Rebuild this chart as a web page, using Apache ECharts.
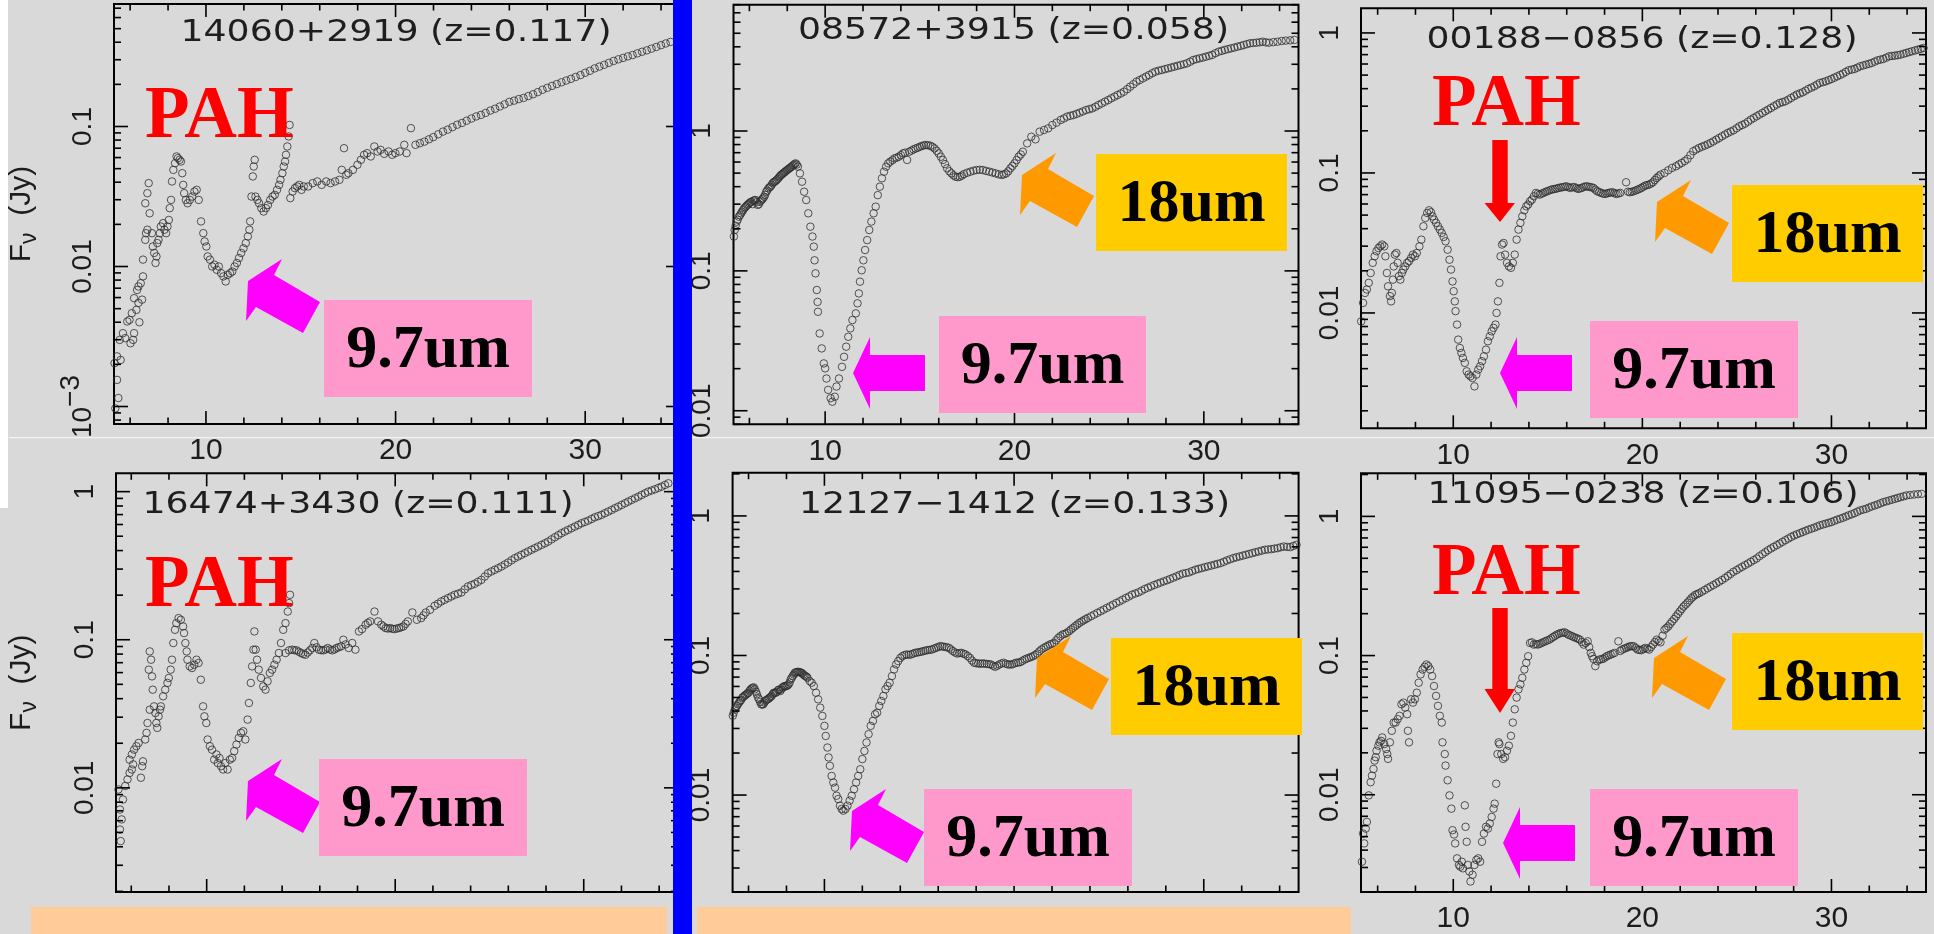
<!DOCTYPE html>
<html><head><meta charset="utf-8">
<script src="https://cdn.jsdelivr.net/npm/echarts@6/dist/echarts.min.js"></script>
<style>html,body{margin:0;padding:0;background:#d9d9d9;overflow:hidden}#c{width:1934px;height:934px}</style>
</head><body><div id="c"></div>
<script>
// ---------- DATA (wavelength in micron, flux in Jy) ----------
const panelTitles = ['14060+2919 (z=0.117)','08572+3915 (z=0.058)','00188\u22120856 (z=0.128)','16474+3430 (z=0.111)','12127\u22121412 (z=0.133)','11095\u22120238 (z=0.106)'];
const xMajorTicks = [10,20,30];
const xMinorTicks = [6,8,12,14,16,18,22,24,26,28,32,34];
const yDecades = [0.0001,0.001,0.01,0.1,1,10];
const yMinorFactors = [2,3,4,5,6,7,8,9];

const spec14060 = [
[5.22,0.00097],[5.38,0.00115],[5.31,0.00155],[5.18,0.00204],[5.31,0.00228],[5.50,0.00215],[5.45,0.00299],[5.74,0.00308],[5.62,0.00334],[5.85,0.00405],[5.97,0.00416],[6.02,0.00283],[6.16,0.00299],[6.21,0.00334],[6.09,0.00464],[6.33,0.0049],[6.21,0.00594],[6.44,0.0055],[6.37,0.0068],[6.44,0.0072],[6.56,0.0076],[6.68,0.0085],[6.63,0.0058],[6.49,0.0040],
[6.68,0.0112],[6.80,0.0155],[6.84,0.0173],[6.91,0.0183],[6.80,0.0283],[6.91,0.0334],[6.98,0.0394],[7.03,0.0240],[7.15,0.0173],[7.20,0.0139],[7.27,0.0125],[7.34,0.0106],[7.39,0.0118],[7.43,0.0147],[7.50,0.0155],[7.57,0.0173],[7.62,0.0193],[7.74,0.0204],[7.81,0.0183],[7.90,0.0173],[7.97,0.0193],[8.04,0.0215],[8.09,0.0261],[8.16,0.0299],[8.21,0.0405],[8.28,0.0490],[8.37,0.0547],[8.45,0.0611],[8.52,0.0594],[8.61,0.0578],[8.68,0.0562],[8.75,0.0464],[8.80,0.0383],[8.85,0.0334],[8.94,0.0299],[9.03,0.0283],[9.15,0.0299],[9.27,0.0316],[9.39,0.0343],[9.51,0.0353],[9.62,0.0299],[9.74,0.0210],[9.86,0.0173],[9.93,0.0151],
[10.02,0.0139],[10.09,0.0118],[10.21,0.0112],[10.33,0.0100],[10.45,0.0103],[10.57,0.00947],[10.68,0.0100],[10.80,0.00896],[10.92,0.00849],[11.04,0.00782],[11.15,0.00872],[11.27,0.00896],[11.39,0.00921],[11.51,0.0100],[11.63,0.0106],[11.74,0.0115],[11.86,0.0125],[11.98,0.0135],[12.10,0.0147],[12.21,0.0164],[12.29,0.0183],[12.33,0.0210],[12.40,0.0316],[12.47,0.0440],[12.52,0.0518],[12.57,0.0578],[12.61,0.0316],[12.71,0.0299],[12.80,0.0283],[12.92,0.0261],[13.04,0.0247],[13.16,0.0261],[13.27,0.0275],[13.39,0.0299],[13.51,0.0316],[13.63,0.0325],[13.75,0.0353],[13.86,0.0383],[13.93,0.0416],[14.03,0.0464],[14.10,0.0518],[14.17,0.0562],[14.22,0.0628],[14.29,0.0720],[14.36,0.0849],[14.41,0.1026],
[14.45,0.0308],[14.57,0.0343],[14.69,0.0363],[14.81,0.0373],[14.92,0.0383],[15.04,0.0353],[15.16,0.0373],[15.39,0.0373],[15.63,0.0394],[15.87,0.0405],[16.10,0.0383],[16.34,0.0405],[16.57,0.0394],[16.81,0.0405],[17.04,0.0416],[17.16,0.0490],[17.28,0.0700],[17.40,0.0452],[17.51,0.0464],[17.75,0.0490],[17.99,0.0533],[18.17,0.0578],[18.34,0.0628],[18.50,0.0645],[18.69,0.0611],[18.88,0.0720],[19.05,0.0663],[19.21,0.0681],[19.40,0.0638],[19.63,0.0663],[19.82,0.0628],[19.99,0.0645],[20.22,0.0663],[20.46,0.0740],[20.58,0.0645],[20.81,0.0973],[21.05,0.0740],[21.28,0.0760],[21.52,0.078],[21.76,0.081],[21.99,0.084],
[22.25,0.088],[22.5,0.092],[22.75,0.095],[23.0,0.099],[23.25,0.103],[23.5,0.106],[23.75,0.110],[24.0,0.114],[24.25,0.118],[24.5,0.121],[24.75,0.125],[25.0,0.130],[25.25,0.134],[25.5,0.139],[25.75,0.144],[26.0,0.150],[26.25,0.153],[26.5,0.157],[26.75,0.160],[27.0,0.165],[27.25,0.170],[27.5,0.176],[27.75,0.183],[28.0,0.189],[28.25,0.195],[28.5,0.201],[28.75,0.207],[29.0,0.213],[29.25,0.219],[29.5,0.226],[29.75,0.233],[30.0,0.242],[30.25,0.250],[30.5,0.260],[30.75,0.268],[31.0,0.276],[31.25,0.285],[31.5,0.294],[31.75,0.302],[32.0,0.309],[32.25,0.317],[32.5,0.324],[32.75,0.333],[33.0,0.342],[33.25,0.350],[33.5,0.360],[33.75,0.370],[34.0,0.381],[34.25,0.392],[34.5,0.402]
];

const spec08572 = [
[5.18,0.176],[5.22,0.196],[5.27,0.21],[5.33,0.225],[5.38,0.232],[5.44,0.244],[5.5,0.25],[5.56,0.258],[5.61,0.265],[5.67,0.272],[5.72,0.28],[5.78,0.285],[5.83,0.29],[5.89,0.296],[5.94,0.30],[6.0,0.305],[6.06,0.31],[6.11,0.312],[6.17,0.30],[6.22,0.318],[6.28,0.32],[6.33,0.321],[6.39,0.31],[6.44,0.296],[6.5,0.30],[6.56,0.312],[6.61,0.318],[6.67,0.325],[6.72,0.33],[6.78,0.339],[6.83,0.35],[6.89,0.368],[6.94,0.375],[7.0,0.389],[7.06,0.395],[7.11,0.40],[7.17,0.41],[7.22,0.423],[7.28,0.43],[7.33,0.434],[7.39,0.44],[7.44,0.447],[7.5,0.455],[7.56,0.466],[7.61,0.475],[7.67,0.485],[7.72,0.49],[7.78,0.498],[7.83,0.505],[7.89,0.512],[7.94,0.52],[8.0,0.527],[8.06,0.535],[8.11,0.541],[8.17,0.548],[8.22,0.556],[8.28,0.565],[8.33,0.571],[8.39,0.58],[8.44,0.587],[8.5,0.575],[8.56,0.556],[8.67,0.498],[8.78,0.434],[8.89,0.368],[9.0,0.321],[9.11,0.258],[9.22,0.207],[9.33,0.176],[9.4,0.149],[9.44,0.119],[9.49,0.096],[9.56,0.073],[9.6,0.060],[9.62,0.051],[9.71,0.0357],[9.82,0.0279],[9.93,0.0218],[10.0,0.0201],[10.07,0.0170],[10.16,0.0141],[10.29,0.0123],[10.38,0.0116],[10.51,0.0126],[10.6,0.0149],[10.73,0.0170],[10.89,0.0206],[11.0,0.0243],[11.11,0.0287],[11.22,0.0338],[11.33,0.0388],[11.44,0.0445],[11.62,0.0497],[11.71,0.0586],[11.78,0.0690],[11.84,0.0837],[11.93,0.101],[12.02,0.119],[12.11,0.141],[12.22,0.166],[12.33,0.196],[12.44,0.225],[12.56,0.258],[12.67,0.288],[12.78,0.348],[12.89,0.40],[13.0,0.459],[13.11,0.512],[13.22,0.556],[13.33,0.587],[13.44,0.604],[13.56,0.620],[13.67,0.638],[13.78,0.645],[13.89,0.655],[14.0,0.672],[14.11,0.692],[14.22,0.700],[14.33,0.621],[14.44,0.711],[14.56,0.725],[14.67,0.739],[14.78,0.750],[14.89,0.760],[15.0,0.770],[15.11,0.782],[15.22,0.790],[15.33,0.794],[15.44,0.790],[15.56,0.785],[15.67,0.770],[15.78,0.751],[15.89,0.722],[16.0,0.692],[16.11,0.655],[16.22,0.621],[16.33,0.580],[16.44,0.541],[16.56,0.515],[16.67,0.498],[16.78,0.482],[16.89,0.471],[17.0,0.468],[17.11,0.471],[17.22,0.480],[17.33,0.492],[17.5,0.503],[17.67,0.512],[17.83,0.520],[18.0,0.526],[18.17,0.528],[18.33,0.526],[18.5,0.518],[18.67,0.512],[18.83,0.505],[19.0,0.498],[19.17,0.490],[19.33,0.485],[19.44,0.490],[19.56,0.498],[19.67,0.515],[19.78,0.541],[19.89,0.562],[20.0,0.587],[20.11,0.620],[20.22,0.655],[20.33,0.680],[20.44,0.711],[20.67,0.816],[20.89,0.910],[21.11,0.872],[21.33,0.989],[21.56,1.017],[21.78,1.045],[22.0,1.104],[22.22,1.147],[22.44,1.199],[22.61,1.230],[22.78,1.267],[22.95,1.285],[23.11,1.301],[23.28,1.325],[23.44,1.352],[23.61,1.380],[23.78,1.413],[23.95,1.432],[24.11,1.452],[24.28,1.490],[24.44,1.534],[24.61,1.575],[24.78,1.621],[24.95,1.665],[25.11,1.713],[25.28,1.760],[25.44,1.808],[25.61,1.855],[25.78,1.911],[25.95,1.990],[26.11,2.075],[26.28,2.160],[26.44,2.253],[26.61,2.315],[26.78,2.381],[26.95,2.450],[27.11,2.514],[27.28,2.590],[27.44,2.656],[27.61,2.700],[27.78,2.731],[27.95,2.770],[28.11,2.807],[28.28,2.845],[28.44,2.885],[28.61,2.925],[28.78,2.965],[28.95,3.005],[29.11,3.048],[29.28,3.130],[29.44,3.22],[29.61,3.265],[29.78,3.309],[29.95,3.350],[30.11,3.40],[30.28,3.45],[30.44,3.50],[30.61,3.60],[30.78,3.69],[30.95,3.74],[31.11,3.80],[31.28,3.85],[31.44,3.90],[31.61,3.95],[31.78,4.01],[31.95,4.06],[32.11,4.12],[32.28,4.18],[32.44,4.24],[32.61,4.26],[32.78,4.28],[32.95,4.31],[33.11,4.35],[33.28,4.30],[33.44,4.28],[33.67,4.32],[33.89,4.35],[34.11,4.40],[34.33,4.43],[34.56,4.45],[34.78,4.48]
];

const spec00188 = [
[5.13,0.00871],[5.23,0.0118],[5.33,0.0139],[5.43,0.0147],[5.53,0.0164],[5.63,0.0193],[5.74,0.0228],[5.84,0.0254],[5.94,0.0276],[6.04,0.0291],[6.14,0.0299],[6.24,0.0308],[6.35,0.0299],[6.41,0.0254],[6.49,0.0193],[6.55,0.0155],[6.65,0.0132],[6.71,0.0121],[6.75,0.0139],[6.81,0.0173],[6.85,0.0215],[6.91,0.0261],[6.99,0.0268],[7.06,0.0228],[7.12,0.0183],[7.20,0.0173],[7.28,0.0193],[7.36,0.0204],[7.46,0.0215],[7.56,0.0228],[7.66,0.0234],[7.77,0.0247],[7.87,0.0261],[7.97,0.0254],[8.07,0.0268],[8.21,0.0299],[8.31,0.0334],[8.42,0.0416],[8.52,0.0477],[8.62,0.0518],[8.72,0.0541],[8.82,0.0524],[8.90,0.0490],[8.98,0.0464],[9.09,0.0440],[9.19,0.0416],[9.29,0.0394],[9.39,0.0373],[9.49,0.0349],[9.59,0.0325],[9.70,0.0283],[9.80,0.0240],[9.88,0.0204],[9.96,0.0168],[10.02,0.0143],[10.08,0.0121],[10.12,0.0103],[10.20,0.00826],[10.26,0.00645],[10.35,0.00562],[10.43,0.00518],[10.51,0.00477],[10.61,0.00440],[10.71,0.00383],[10.81,0.00363],[10.91,0.00353],[11.02,0.00343],[11.12,0.00299],[11.22,0.00363],[11.32,0.00394],[11.42,0.00416],[11.52,0.00452],[11.62,0.00490],[11.73,0.00547],[11.83,0.00628],[11.93,0.00681],[12.03,0.00739],[12.13,0.00782],[12.23,0.00826],[12.29,0.0100],[12.36,0.0121],[12.44,0.0164],[12.50,0.0254],[12.58,0.0308],[12.66,0.0316],[12.74,0.0261],[12.84,0.0228],[12.94,0.0215],[13.05,0.0210],[13.15,0.0228],[13.25,0.0261],[13.35,0.0334],[13.45,0.0394],[13.55,0.0440],[13.65,0.0490],[13.76,0.0541],[13.86,0.0578],[13.96,0.0594],[14.06,0.0628],[14.16,0.0645],[14.26,0.0681],[14.37,0.0720],[14.47,0.0710],[14.57,0.0700],[14.67,0.0712],[14.77,0.0720],[14.87,0.0732],[14.97,0.0740],[15.08,0.0750],[15.18,0.0760],[15.28,0.0765],[15.38,0.0769],[15.48,0.0775],[15.58,0.0782],[15.69,0.0788],[15.79,0.0791],[15.89,0.0797],[15.99,0.0803],[16.09,0.0790],[16.19,0.0782],[16.29,0.0790],[16.40,0.0794],[16.50,0.0780],[16.60,0.0769],[16.70,0.0775],[16.80,0.0782],[16.90,0.0795],[17.01,0.0803],[17.11,0.0800],[17.21,0.0794],[17.31,0.0790],[17.41,0.0782],[17.51,0.0760],[17.61,0.0740],[17.72,0.0730],[17.82,0.0720],[17.92,0.0712],[18.02,0.0708],[18.12,0.0714],[18.22,0.0720],[18.32,0.0725],[18.43,0.0728],[18.53,0.0716],[18.63,0.0708],[18.73,0.0714],[18.83,0.0720],[19.14,0.0858],[19.24,0.0735],[19.34,0.0728],[19.44,0.0734],[19.54,0.0740],[19.65,0.0750],[19.75,0.0760],[19.85,0.0770],[19.95,0.0782],[20.05,0.0797],[20.15,0.0812],[20.25,0.0820],[20.36,0.0826],[20.46,0.0840],[20.56,0.0858],[20.66,0.0890],[20.76,0.0921],[20.86,0.0945],[20.96,0.0973],[21.17,0.1000],[21.37,0.1045],[21.57,0.1086],[21.78,0.1116],[21.93,0.1150],[22.08,0.1179],[22.24,0.1215],[22.39,0.1259],[22.54,0.1340],[22.69,0.1429],[22.85,0.1470],[23.0,0.1509],[23.15,0.1540],[23.30,0.1568],[23.45,0.1600],[23.60,0.1638],[23.75,0.1680],[23.91,0.1729],[24.06,0.1775],[24.21,0.1827],[24.37,0.1880],[24.52,0.1931],[24.67,0.1975],[24.82,0.2018],[24.98,0.2085],[25.13,0.2154],[25.28,0.2200],[25.43,0.2250],[25.59,0.2325],[25.74,0.2404],[25.89,0.2470],[26.04,0.2540],[26.19,0.2610],[26.35,0.2683],[26.50,0.2760],[26.65,0.2833],[26.80,0.2910],[26.95,0.2994],[27.11,0.3080],[27.26,0.3162],[27.41,0.3205],[27.56,0.3250],[27.72,0.3340],[27.87,0.3435],[28.02,0.3530],[28.17,0.3628],[28.33,0.3700],[28.48,0.3768],[28.63,0.3870],[28.78,0.3981],[28.94,0.4070],[29.09,0.4159],[29.24,0.4280],[29.39,0.4394],[29.55,0.4450],[29.70,0.4518],[29.85,0.4600],[30.0,0.4690],[30.15,0.4790],[30.30,0.4898],[30.46,0.5010],[30.61,0.5124],[30.76,0.5270],[30.91,0.5412],[31.07,0.5470],[31.22,0.5533],[31.37,0.5650],[31.52,0.5780],[31.68,0.5860],[31.83,0.5940],[31.98,0.6020],[32.13,0.6105],[32.29,0.6240],[32.44,0.6376],[32.59,0.6450],[32.74,0.6519],[32.90,0.6660],[33.05,0.6810],[33.20,0.6850],[33.35,0.6887],[33.50,0.6940],[33.65,0.6998],[33.81,0.7100],[33.96,0.7197],[34.11,0.7300],[34.26,0.7396],[34.42,0.7500],[34.57,0.7601],[34.72,0.7700],[34.87,0.7812]
];

const spec16474 = [
[5.44,0.00437],[5.40,0.00523],[5.49,0.00612],[5.40,0.00714],[5.56,0.00834],[5.32,0.00975],[5.68,0.0103],[5.80,0.0114],[5.91,0.0126],[6.03,0.0133],[6.10,0.0144],[5.91,0.0155],[6.03,0.0168],[6.15,0.0181],[6.27,0.0191],[6.39,0.0201],[6.51,0.0117],[6.58,0.0140],[6.62,0.0151],[6.74,0.0212],[6.81,0.0235],[6.86,0.0274],[6.98,0.0337],[6.93,0.0628],[6.98,0.0834],[7.05,0.0733],[7.10,0.0566],[7.14,0.0460],[7.21,0.0355],[7.28,0.0320],[7.33,0.0274],[7.38,0.0254],[7.45,0.0304],[7.52,0.0337],[7.57,0.0355],[7.69,0.0415],[7.80,0.0460],[7.92,0.0511],[7.99,0.0552],[8.09,0.0628],[8.16,0.0733],[8.23,0.0950],[8.32,0.1167],[8.39,0.1295],[8.51,0.140],[8.63,0.1364],[8.75,0.1230],[8.80,0.1109],[8.87,0.0950],[8.94,0.0834],[8.98,0.0733],[9.10,0.0661],[9.22,0.0644],[9.34,0.0678],[9.46,0.0733],[9.57,0.0697],[9.69,0.0537],[9.81,0.0355],[9.88,0.0304],[9.98,0.0274],[10.05,0.0212],[10.17,0.0191],[10.28,0.0181],[10.40,0.0155],[10.52,0.0168],[10.59,0.0147],[10.68,0.0159],[10.76,0.0140],[10.87,0.0133],[10.99,0.0147],[11.11,0.0133],[11.23,0.0155],[11.35,0.0159],[11.46,0.0177],[11.58,0.0196],[11.70,0.0217],[11.82,0.0235],[11.94,0.0241],[12.05,0.0212],[12.17,0.0289],[12.24,0.0374],[12.34,0.0511],[12.41,0.0661],[12.48,0.0857],[12.53,0.1138],[12.60,0.0857],[12.67,0.0733],[12.76,0.0628],[12.88,0.0552],[13.00,0.0484],[13.12,0.0460],[13.23,0.0524],[13.35,0.0596],[13.47,0.0628],[13.59,0.0678],[13.71,0.0733],[13.83,0.0813],[13.94,0.0950],[14.06,0.1167],[14.18,0.1295],[14.30,0.155],[14.37,0.1767],[14.42,0.2011],[14.18,0.0813],[14.37,0.0848],[14.53,0.0857],[14.65,0.0850],[14.77,0.0848],[14.89,0.0830],[15.01,0.0813],[15.12,0.0800],[15.24,0.0792],[15.36,0.0820],[15.48,0.0848],[15.60,0.0880],[15.71,0.0950],[15.83,0.0890],[15.95,0.0857],[16.07,0.0850],[16.19,0.0848],[16.31,0.0860],[16.42,0.0879],[16.54,0.0860],[16.66,0.0848],[16.78,0.0860],[16.89,0.0879],[17.01,0.0890],[17.13,0.0902],[17.25,0.1],[17.37,0.0930],[17.53,0.0880],[17.72,0.0950],[17.89,0.0857],[18.08,0.1138],[18.24,0.118],[18.43,0.1263],[18.55,0.1300],[18.67,0.1330],[18.90,0.155],[19.09,0.1330],[19.26,0.1263],[19.38,0.1230],[19.49,0.1199],[19.61,0.1190],[19.73,0.1199],[19.85,0.1185],[19.96,0.118],[20.08,0.1190],[20.20,0.1199],[20.32,0.1215],[20.44,0.1230],[20.55,0.1280],[20.67,0.1330],[20.91,0.1528],[21.15,0.1364],[21.38,0.1400],[21.50,0.1460],[21.62,0.1528],[21.85,0.1593],[22.09,0.1695],[22.27,0.1750],[22.44,0.1813],[22.62,0.1860],[22.80,0.1910],[22.98,0.1960],[23.15,0.2011],[23.33,0.2045],[23.51,0.2085],[23.69,0.2190],[23.86,0.2290],[24.04,0.2340],[24.21,0.2386],[24.39,0.2460],[24.57,0.2537],[24.75,0.2670],[24.92,0.2813],[25.10,0.2890],[25.28,0.2965],[25.46,0.3040],[25.63,0.3121],[25.81,0.3220],[25.99,0.3321],[26.17,0.3440],[26.34,0.3554],[26.52,0.3650],[26.69,0.3741],[26.87,0.3840],[27.05,0.3943],[27.23,0.4050],[27.40,0.4150],[27.58,0.4260],[27.76,0.4369],[27.94,0.4480],[28.11,0.4600],[28.29,0.4760],[28.47,0.4920],[28.65,0.5080],[28.82,0.5240],[29.00,0.5380],[29.17,0.5518],[29.35,0.5660],[29.53,0.5808],[29.71,0.5960],[29.88,0.6115],[30.06,0.6240],[30.24,0.6372],[30.42,0.6540],[30.59,0.6710],[30.77,0.6840],[30.94,0.6966],[31.12,0.7150],[31.30,0.7332],[31.48,0.7520],[31.65,0.7723],[31.83,0.7920],[32.01,0.8130],[32.19,0.8350],[32.36,0.8562],[32.54,0.8790],[32.72,0.9017],[32.90,0.9250],[33.07,0.9496],[33.25,0.9750],[33.42,1.0],[33.60,1.018],[33.78,1.037],[33.96,1.060],[34.13,1.081],[34.31,1.110],[34.49,1.138]
];

const spec12127 = [
[5.13,0.0349],[5.17,0.037],[5.22,0.0389],[5.28,0.041],[5.33,0.0423],[5.39,0.0435],[5.44,0.0447],[5.5,0.046],[5.56,0.0472],[5.61,0.048],[5.67,0.0499],[5.72,0.0505],[5.78,0.0513],[5.83,0.052],[5.89,0.0527],[5.94,0.0535],[6.0,0.0541],[6.06,0.056],[6.11,0.0572],[6.17,0.058],[6.22,0.0588],[6.28,0.059],[6.33,0.0572],[6.39,0.055],[6.44,0.0527],[6.5,0.050],[6.56,0.0485],[6.61,0.0465],[6.67,0.0447],[6.72,0.0445],[6.78,0.0447],[6.83,0.046],[6.89,0.0472],[6.94,0.048],[7.0,0.0485],[7.06,0.049],[7.11,0.0499],[7.17,0.0505],[7.22,0.0513],[7.28,0.053],[7.33,0.0541],[7.39,0.054],[7.44,0.0541],[7.5,0.055],[7.56,0.0565],[7.61,0.057],[7.67,0.0556],[7.72,0.057],[7.78,0.0588],[7.83,0.0595],[7.89,0.0604],[7.94,0.060],[8.0,0.0604],[8.06,0.061],[8.11,0.0621],[8.17,0.064],[8.22,0.0674],[8.28,0.069],[8.33,0.0712],[8.39,0.073],[8.44,0.0752],[8.5,0.0757],[8.56,0.0760],[8.61,0.0765],[8.67,0.0760],[8.72,0.0757],[8.78,0.0752],[8.83,0.0745],[8.89,0.0732],[8.94,0.072],[9.0,0.0712],[9.06,0.0705],[9.11,0.0692],[9.22,0.0656],[9.33,0.0638],[9.44,0.0604],[9.56,0.0541],[9.67,0.0485],[9.78,0.0423],[9.89,0.0369],[10.0,0.0313],[10.07,0.0265],[10.16,0.0219],[10.22,0.0186],[10.29,0.0162],[10.38,0.0137],[10.47,0.0123],[10.56,0.0113],[10.64,0.00989],[10.73,0.00936],[10.82,0.00839],[10.91,0.00794],[11.0,0.00773],[11.11,0.00794],[11.22,0.00839],[11.33,0.00912],[11.44,0.00989],[11.56,0.0110],[11.67,0.0123],[11.78,0.0137],[11.89,0.0153],[12.0,0.0181],[12.11,0.0207],[12.22,0.0238],[12.33,0.0273],[12.44,0.0313],[12.56,0.0340],[12.67,0.0379],[12.78,0.0389],[12.89,0.0435],[13.0,0.0472],[13.11,0.0513],[13.22,0.0572],[13.33,0.0604],[13.44,0.0638],[13.56,0.0712],[13.67,0.0794],[13.78,0.0863],[13.89,0.0911],[14.0,0.0960],[14.11,0.0989],[14.22,0.1005],[14.33,0.1017],[14.44,0.1010],[14.56,0.1017],[14.67,0.1030],[14.78,0.1045],[14.89,0.1050],[15.0,0.1057],[15.11,0.1065],[15.22,0.1074],[15.33,0.1085],[15.44,0.1092],[15.56,0.1098],[15.67,0.1104],[15.78,0.1120],[15.89,0.1135],[16.0,0.1150],[16.11,0.1167],[16.22,0.1160],[16.33,0.1153],[16.44,0.1145],[16.56,0.1135],[16.67,0.1105],[16.78,0.1074],[16.89,0.1050],[17.0,0.1033],[17.11,0.1040],[17.22,0.1045],[17.33,0.1030],[17.44,0.1017],[17.56,0.0990],[17.67,0.0962],[17.78,0.0920],[17.89,0.0887],[18.0,0.0880],[18.11,0.0877],[18.22,0.0872],[18.33,0.0877],[18.44,0.0874],[18.56,0.0870],[18.67,0.0866],[18.78,0.0862],[18.89,0.0845],[19.0,0.0830],[19.11,0.0845],[19.22,0.0862],[19.33,0.0875],[19.44,0.0887],[19.56,0.0874],[19.67,0.0862],[19.78,0.0862],[19.89,0.0862],[20.0,0.0875],[20.11,0.0887],[20.22,0.0890],[20.33,0.0896],[20.44,0.0915],[20.56,0.0936],[20.67,0.0950],[20.78,0.0962],[20.89,0.0975],[21.0,0.0989],[21.11,0.1010],[21.22,0.1033],[21.33,0.1070],[21.44,0.1104],[21.56,0.1130],[21.67,0.1153],[21.78,0.1175],[21.89,0.1199],[22.0,0.1215],[22.11,0.1231],[22.22,0.1285],[22.33,0.1337],[22.44,0.1375],[22.56,0.1413],[22.67,0.1430],[22.78,0.1452],[22.89,0.1490],[23.0,0.1534],[23.11,0.1578],[23.22,0.1621],[23.33,0.1665],[23.44,0.1711],[23.56,0.1750],[23.67,0.1787],[23.78,0.1822],[23.89,0.1858],[24.06,0.1910],[24.22,0.1963],[24.39,0.2020],[24.56,0.2074],[24.72,0.2130],[24.89,0.2190],[25.06,0.2250],[25.22,0.2313],[25.39,0.2380],[25.56,0.2443],[25.72,0.2510],[25.89,0.2581],[26.06,0.2650],[26.22,0.2727],[26.39,0.2780],[26.56,0.2833],[26.72,0.2910],[26.89,0.2994],[27.06,0.3060],[27.22,0.3128],[27.39,0.3200],[27.56,0.3268],[27.72,0.3330],[27.89,0.3396],[28.06,0.3460],[28.22,0.3530],[28.39,0.3610],[28.56,0.3688],[28.72,0.3770],[28.89,0.3853],[29.06,0.3895],[29.22,0.3938],[29.39,0.4025],[29.56,0.4114],[29.72,0.4170],[29.89,0.4228],[30.06,0.4290],[30.22,0.4346],[30.39,0.4405],[30.56,0.4467],[30.72,0.4530],[30.89,0.4591],[31.06,0.4690],[31.22,0.4797],[31.39,0.4890],[31.56,0.4984],[31.72,0.5055],[31.89,0.5124],[32.06,0.5195],[32.22,0.5266],[32.39,0.5340],[32.56,0.5412],[32.72,0.5490],[32.89,0.5562],[33.06,0.5640],[33.22,0.5717],[33.39,0.5750],[33.56,0.5780],[33.72,0.5830],[33.89,0.5875],[34.06,0.5960],[34.22,0.6039],[34.39,0.6000],[34.56,0.5973],[34.72,0.6090],[34.89,0.6206]
];

const spec11095 = [
[5.17,0.00330],[5.23,0.00526],[5.29,0.00447],[5.37,0.00571],[5.43,0.00638],[5.53,0.00989],[5.63,0.0123],[5.70,0.0137],[5.78,0.0153],[5.84,0.0176],[5.90,0.0186],[5.94,0.0207],[6.04,0.0225],[6.10,0.0238],[6.18,0.0244],[6.24,0.0258],[6.35,0.0231],[6.45,0.0213],[6.51,0.0196],[6.55,0.0181],[6.65,0.0238],[6.75,0.0288],[6.85,0.0330],[6.95,0.0330],[7.06,0.0349],[7.16,0.0369],[7.26,0.0447],[7.36,0.0459],[7.46,0.0423],[7.56,0.0379],[7.60,0.0288],[7.66,0.0238],[7.77,0.0485],[7.87,0.0459],[7.97,0.0485],[8.07,0.0541],[8.17,0.0638],[8.27,0.0732],[8.38,0.0794],[8.48,0.0830],[8.58,0.0863],[8.68,0.0839],[8.78,0.0794],[8.88,0.0712],[8.98,0.0604],[9.09,0.0513],[9.19,0.0435],[9.29,0.0369],[9.39,0.0330],[9.43,0.0238],[9.55,0.0196],[9.59,0.0162],[9.70,0.0127],[9.80,0.00989],[9.90,0.00794],[9.96,0.00556],[10.04,0.00518],[10.10,0.00447],[10.20,0.00349],[10.30,0.00313],[10.37,0.00304],[10.45,0.00330],[10.51,0.00296],[10.61,0.00839],[10.65,0.00588],[10.71,0.00459],[10.77,0.00313],[10.85,0.00281],[10.91,0.00238],[11.02,0.00266],[11.12,0.00313],[11.22,0.00340],[11.32,0.00349],[11.42,0.00330],[11.52,0.00459],[11.62,0.00526],[11.73,0.00588],[11.83,0.00571],[11.93,0.00621],[12.03,0.00692],[12.13,0.00794],[12.19,0.00863],[12.27,0.0120],[12.34,0.0196],[12.40,0.0238],[12.44,0.0231],[12.54,0.0196],[12.64,0.0181],[12.74,0.0186],[12.84,0.0207],[12.94,0.0225],[13.05,0.0265],[13.15,0.0330],[13.25,0.0411],[13.35,0.0499],[13.45,0.0572],[13.55,0.0621],[13.65,0.0692],[13.76,0.0794],[13.86,0.0887],[13.96,0.0989],[14.06,0.1231],[14.16,0.1245],[14.26,0.1199],[14.37,0.1210],[14.47,0.1199],[14.57,0.1215],[14.67,0.1231],[14.77,0.1250],[14.87,0.1266],[14.97,0.1285],[15.08,0.1301],[15.18,0.1330],[15.28,0.1359],[15.38,0.1385],[15.48,0.1413],[15.58,0.1435],[15.69,0.1452],[15.79,0.1460],[15.89,0.1469],[15.99,0.1440],[16.09,0.1413],[16.19,0.1395],[16.29,0.1375],[16.39,0.1355],[16.50,0.1337],[16.60,0.1320],[16.70,0.1301],[16.80,0.1250],[16.90,0.1199],[17.00,0.1230],[17.11,0.1266],[17.19,0.1150],[17.27,0.1045],[17.34,0.0990],[17.41,0.0947],[17.51,0.0839],[17.61,0.0911],[17.72,0.0936],[17.82,0.0940],[17.92,0.0947],[18.02,0.0968],[18.12,0.0989],[18.22,0.1003],[18.32,0.1017],[18.43,0.1030],[18.53,0.1045],[18.73,0.1266],[18.83,0.1080],[18.93,0.1104],[19.04,0.1120],[19.14,0.1135],[19.24,0.1150],[19.34,0.1167],[19.44,0.1167],[19.54,0.1167],[19.65,0.1135],[19.75,0.1104],[19.85,0.1098],[19.95,0.1092],[20.05,0.1115],[20.15,0.1135],[20.26,0.1120],[20.36,0.1104],[20.46,0.1150],[20.56,0.1199],[20.66,0.1250],[20.76,0.1301],[20.86,0.1270],[20.96,0.1245],[21.07,0.1390],[21.17,0.1534],[21.27,0.1578],[21.37,0.1621],[21.47,0.1690],[21.57,0.1758],[21.68,0.1830],[21.78,0.1910],[21.88,0.1990],[21.98,0.2074],[22.08,0.2160],[22.18,0.2250],[22.29,0.2325],[22.39,0.2404],[22.49,0.2490],[22.59,0.2581],[22.69,0.2650],[22.79,0.2727],[22.90,0.2765],[23.0,0.2805],[23.15,0.2880],[23.30,0.2961],[23.45,0.3045],[23.60,0.3128],[23.76,0.3215],[23.91,0.3304],[24.06,0.3395],[24.21,0.3490],[24.37,0.3610],[24.52,0.3727],[24.67,0.3860],[24.82,0.4001],[24.98,0.4110],[25.13,0.4228],[25.28,0.4345],[25.43,0.4467],[25.59,0.4590],[25.74,0.4719],[25.89,0.4850],[26.04,0.4984],[26.19,0.5170],[26.35,0.5353],[26.50,0.5530],[26.65,0.5717],[26.80,0.5880],[26.95,0.6039],[27.11,0.6210],[27.26,0.6380],[27.41,0.6560],[27.56,0.6740],[27.72,0.6930],[27.87,0.7120],[28.02,0.7280],[28.17,0.7435],[28.33,0.7580],[28.48,0.7727],[28.63,0.7880],[28.78,0.8030],[28.94,0.8160],[29.09,0.8297],[29.24,0.8460],[29.39,0.8625],[29.55,0.8745],[29.70,0.8866],[29.85,0.8990],[30.0,0.9112],[30.15,0.9290],[30.30,0.9467],[30.46,0.9625],[30.61,0.9783],[30.76,0.9975],[30.91,1.017],[31.07,1.036],[31.22,1.056],[31.37,1.080],[31.52,1.104],[31.68,1.119],[31.83,1.134],[31.98,1.156],[32.13,1.179],[32.29,1.198],[32.44,1.218],[32.59,1.242],[32.74,1.266],[32.90,1.283],[33.05,1.301],[33.20,1.319],[33.35,1.337],[33.50,1.355],[33.65,1.374],[33.81,1.393],[33.96,1.413],[34.16,1.425],[34.37,1.436],[34.57,1.444],[34.77,1.452]
];

const spectra = [spec14060, spec08572, spec00188, spec16474, spec12127, spec11095];

// ---------- LAYOUT (pixel geometry & styles) ----------
const layout = [
  {left:114,   top:4,     width:566, height:420,   xmin:5.15, ymin:7.5e-4,  ymax:0.75, yname:true, nameGap:90, title:[396,33]},
  {left:733.5, top:4.7,   width:565, height:419.6, xmin:5.16, ymin:0.008,   ymax:8,    title:[1013.5,31]},
  {left:1361,  top:8.3,   width:565, height:420,   xmin:5.12, ymin:0.0015,  ymax:1.5,  title:[1642,40]},
  {left:116,   top:473.3, width:562, height:419.4, xmin:5.19, ymin:0.00198, ymax:1.33, yname:true, nameGap:92, title:[358,505]},
  {left:732.6, top:472.7, width:566, height:420.6, xmin:5.16, ymin:0.00202, ymax:2.04, title:[1014.6,505]},
  {left:1361,  top:473.3, width:565, height:420,   xmin:5.12, ymin:0.002,   ymax:2.04, title:[1643,495]}
];

const LABEL_COLOR = '#1c1c1c';
const sans = 'Liberation Sans';

function yLabel(v){
  const l = Math.log10(v), e = Math.round(l);
  if (Math.abs(l - e) > 1e-6) return '';
  if (e <= -3) return '{b|10}{s|\u2212' + (-e) + '}';
  if (e >= 0) return '{b|' + Math.pow(10, e) + '}';
  return '{b|' + Math.pow(10, e).toFixed(-e) + '}';
}

function tickData(L){
  const d = [];
  xMajorTicks.forEach(v => d.push([v, L.ymin, 0, 1]));
  xMinorTicks.forEach(v => d.push([v, L.ymin, 0, 0]));
  yDecades.forEach(dec => {
    if (dec >= L.ymin && dec <= L.ymax) d.push([L.xmin, dec, 1, 1]);
    yMinorFactors.forEach(f => { const v = dec * f; if (v >= L.ymin && v <= L.ymax) d.push([L.xmin, v, 1, 0]); });
  });
  return d;
}

function renderTick(params, api){
  const cs = params.coordSys;
  const kind = api.value(2), major = api.value(3);
  const p = api.coord([api.value(0), api.value(1)]);
  const st = {stroke:'#000', lineWidth:1.6};
  if (kind === 0){
    const len = major ? 13 : 6.5, x = p[0], yb = cs.y + cs.height, yt = cs.y;
    return {type:'group', children:[
      {type:'line', shape:{x1:x, y1:yb, x2:x, y2:yb - len}, style:st},
      {type:'line', shape:{x1:x, y1:yt, x2:x, y2:yt + len}, style:st}
    ]};
  }
  const len = major ? 14 : 7, y = p[1], xl = cs.x, xr = cs.x + cs.width;
  return {type:'group', children:[
    {type:'line', shape:{x1:xl, y1:y, x2:xl + len, y2:y}, style:st},
    {type:'line', shape:{x1:xr, y1:y, x2:xr - len, y2:y}, style:st}
  ]};
}

const grids = [], xAxes = [], yAxes = [], series = [];
layout.forEach((L, i) => {
  grids.push({left:L.left, top:L.top, width:L.width, height:L.height, show:true,
    backgroundColor:'#d9d9d9', borderColor:'#000', borderWidth:2, containLabel:false});
  xAxes.push({type:'value', gridIndex:i, min:L.xmin, max:35,
    axisLine:{show:false}, axisTick:{show:false}, splitLine:{show:false},
    axisLabel:{show:true, customValues:xMajorTicks,
      formatter: v => (xMajorTicks.indexOf(Math.round(v*1000)/1000) >= 0 ? String(Math.round(v)) : ''),
      fontFamily:sans, fontSize:30, color:LABEL_COLOR, margin:27, verticalAlign:'middle'}});
  yAxes.push({type:'log', logBase:10, gridIndex:i, min:L.ymin, max:L.ymax,
    axisLine:{show:false}, axisTick:{show:false}, splitLine:{show:false},
    minorTick:{show:false}, minorSplitLine:{show:false},
    axisLabel:{show:true, rotate:90, margin:37, verticalAlign:'middle', align:'center', formatter:yLabel,
      fontFamily:sans, fontSize:28, color:LABEL_COLOR,
      rich:{
        b:{fontFamily:sans, fontSize:28, color:LABEL_COLOR, lineHeight:40, verticalAlign:'bottom'},
        s:{fontFamily:sans, fontSize:28, color:LABEL_COLOR, lineHeight:28, verticalAlign:'top'}
      }},
    name: L.yname ? '{a|F}{n|\u03bd}{a|  (Jy)}' : '',
    nameLocation:'middle', nameRotate:90, nameGap: L.nameGap || 60,
    nameTextStyle:{verticalAlign:'middle', align:'center', fontFamily:sans, fontSize:30, color:LABEL_COLOR,
      rich:{
        a:{fontFamily:sans, fontSize:30, color:LABEL_COLOR, lineHeight:34, verticalAlign:'top'},
        n:{fontFamily:sans, fontSize:23, color:LABEL_COLOR, lineHeight:22, verticalAlign:'bottom'}
      }}
  });
  series.push({type:'scatter', xAxisIndex:i, yAxisIndex:i, data:spectra[i], symbol:'circle', symbolSize:7.5,
    itemStyle:{color:'rgba(0,0,0,0)', borderColor:'#2e2e2e', borderWidth:1}, silent:true, animation:false, z:3});
  series.push({type:'custom', xAxisIndex:i, yAxisIndex:i, data:tickData(L), renderItem:renderTick,
    silent:true, animation:false, clip:false, z:4});
});

// ---------- ANNOTATIONS ----------
const diagArrowShape = [[0,0],[34,-22],[26,-6],[72,21],[55,52],[8,26],[-2,40]];
const leftArrowShape = [[0,0],[17,-36],[17,-18],[72,-18],[72,18],[17,18],[17,36]];
function downArrowShape(len, head){ return [[0,0],[15,-head],[7.7,-head],[7.7,-len],[-7.7,-len],[-7.7,-head],[-15.5,-head]]; }

const annotations = {
  magentaDiag: [[248,281],[248,781],[852,811]],
  orangeDiag:  [[1022,175],[1657,202],[1037,658],[1654,658]],
  magentaLeft: [[853,373],[1500,373],[1503,843]],
  redDown: [{tip:[1500,222], len:82, head:19}, {tip:[1500,713], len:105, head:24}],
  pinkBoxes:   [[324,300,208,97],[939,316,207,97],[1590,321,208,97],[319,759,208,97],[924,789,208,97],[1590,789,208,97]],
  yellowBoxes: [[1096,154,191,97],[1732,185,191,97],[1111,638,191,97],[1732,633,191,97]],
  pah: [[145,118],[1432,106],[145,587],[1432,575]]
};

const g = [];
g.push({type:'rect', z:1, shape:{x:0, y:0, width:8, height:508}, style:{fill:'#ffffff'}});
g.push({type:'rect', z:1, shape:{x:9, y:437, width:664, height:1.3}, style:{fill:'#f3f3f3'}});
g.push({type:'rect', z:1, shape:{x:692, y:437, width:1242, height:1.3}, style:{fill:'#f3f3f3'}});

function poly(tip, shape, color){
  return {type:'polygon', z:100, shape:{points: shape.map(p => [tip[0] + p[0], tip[1] + p[1]])}, style:{fill:color}};
}
function txt(x, y, text, font, color, align, extra){
  return Object.assign({type:'text', z:101, x:x, y:y,
    style:{text:text, font:font, fill:color, align:align, verticalAlign:'middle', textAlign:align, textVerticalAlign:'middle'}}, extra || {});
}

layout.forEach((L, i) => {
  g.push(txt(L.title[0], L.title[1], panelTitles[i], '31px "DejaVu Sans"', '#1e1e1e', 'center', {scaleX:1.17}));
});
annotations.magentaDiag.forEach(t => g.push(poly(t, diagArrowShape, '#ff00ff')));
annotations.orangeDiag.forEach(t => g.push(poly(t, diagArrowShape, '#ff9900')));
annotations.magentaLeft.forEach(t => g.push(poly(t, leftArrowShape, '#ff00ff')));
annotations.redDown.forEach(a => g.push(poly(a.tip, downArrowShape(a.len, a.head), '#ff0000')));
annotations.pinkBoxes.forEach(b => {
  g.push({type:'rect', z:100, shape:{x:b[0], y:b[1], width:b[2], height:b[3]}, style:{fill:'#ff99cc'}});
  g.push(txt(b[0] + b[2]/2, b[1] + b[3]/2 + 2, '9.7um', 'bold 62px "Liberation Serif"', '#000', 'center'));
});
annotations.yellowBoxes.forEach(b => {
  g.push({type:'rect', z:100, shape:{x:b[0], y:b[1], width:b[2], height:b[3]}, style:{fill:'#ffcc00'}});
  g.push(txt(b[0] + b[2]/2, b[1] + b[3]/2 + 2, '18um', 'bold 62px "Liberation Serif"', '#000', 'center'));
});
annotations.pah.forEach(p => g.push(txt(p[0], p[1], 'PAH', 'bold 73px "Liberation Serif"', '#ff0000', 'left')));

g.push({type:'rect', z:110, shape:{x:673, y:0, width:19, height:934}, style:{fill:'#0000ff'}});
g.push({type:'rect', z:110, shape:{x:31, y:907, width:636, height:27}, style:{fill:'#ffcc99'}});
g.push({type:'rect', z:110, shape:{x:697, y:907, width:654, height:27}, style:{fill:'#ffcc99'}});

const chart = echarts.init(document.getElementById('c'), null, {renderer:'canvas'});
chart.setOption({
  backgroundColor:'#d9d9d9',
  animation:false,
  grid:grids, xAxis:xAxes, yAxis:yAxes, series:series,
  graphic:{elements:g}
});
</script>
</body></html>
